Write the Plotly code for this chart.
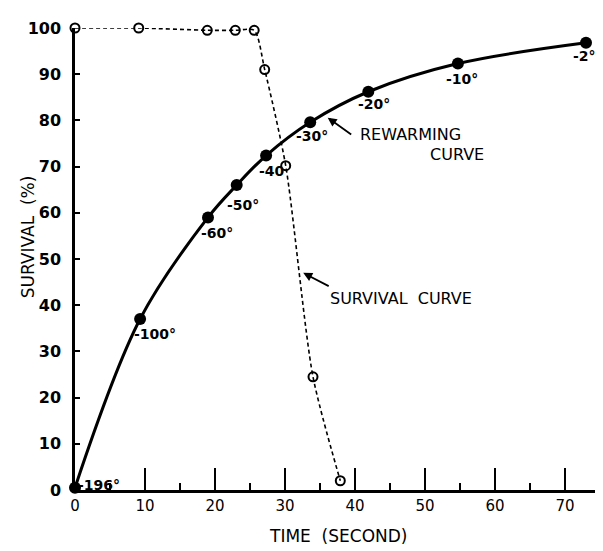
import plotly.graph_objects as go

# Rewarming curve (filled points) : time (s), survival axis value, temperature label
rew_time = [0.0, 9.3, 19.0, 23.1, 27.3, 33.6, 41.9, 54.7, 73.0]
rew_val = [0.5, 37.0, 59.0, 66.0, 72.4, 79.6, 86.2, 92.3, 96.8]
rew_labels = ["-196°", "-100°", "-60°", "-50°", "-40", "-30°", "-20°", "-10°", "-2°"]
# label offsets in pixels (dx, dy) relative to point
lab_dx = [24, 15, 9, 6, 6, 2, 6, 4, -2]
lab_dy = [3, -15, -16, -20, -15, -14, -12, -15, -13]

# Survival curve (open points)
surv_time = [0.0, 9.1, 18.9, 22.9, 25.6, 27.1, 30.1, 34.0, 37.9]
surv_val = [100.0, 100.0, 99.5, 99.5, 99.5, 91.0, 70.2, 24.5, 2.0]

x_ticks = [0, 10, 20, 30, 40, 50, 60, 70]
y_ticks = [0, 10, 20, 30, 40, 50, 60, 70, 80, 90, 100]

FONT = "DejaVu Sans"

fig = go.Figure()

fig.add_trace(go.Scatter(
    x=surv_time, y=surv_val, mode="lines+markers",
    line=dict(color="black", width=1.6, dash="4px,3px", shape="spline", smoothing=0.7),
    marker=dict(symbol="circle-open", size=9, color="black", line=dict(width=2, color="black")),
    cliponaxis=False, showlegend=False))

fig.add_trace(go.Scatter(
    x=rew_time, y=rew_val, mode="lines+markers",
    line=dict(color="black", width=3, shape="spline", smoothing=1.0),
    marker=dict(symbol="circle", size=12, color="black"),
    cliponaxis=False, showlegend=False))

annotations = []
for t, v, lab, dx, dy in zip(rew_time, rew_val, rew_labels, lab_dx, lab_dy):
    annotations.append(dict(x=t, y=v, text=lab, showarrow=False, xshift=dx, yshift=dy,
                            font=dict(family=FONT, size=14, color="black", weight="bold")))

annotations += [
    dict(x=36.1, y=80.6, ax=25, ay=18, text="", showarrow=True, arrowhead=2, arrowsize=1.0,
         arrowwidth=1.8, arrowcolor="black"),
    dict(x=(350 - 67) / 7.0, y=(482 - 122) / 4.68, text="REWARMING", showarrow=False, xanchor="left",
         font=dict(family=FONT, size=16, color="black")),
    dict(x=(420 - 67) / 7.0, y=(482 - 142) / 4.68, text="CURVE", showarrow=False, xanchor="left",
         font=dict(family=FONT, size=16, color="black")),
    dict(x=32.6, y=47.0, ax=27, ay=14, text="", showarrow=True, arrowhead=2, arrowsize=1.0,
         arrowwidth=1.8, arrowcolor="black"),
    dict(x=(320 - 67) / 7.0, y=(482 - 288) / 4.68, text="SURVIVAL  CURVE", showarrow=False, xanchor="left",
         font=dict(family=FONT, size=16, color="black")),
    dict(x=0.501, y=-0.10, xref="paper", yref="paper", text="TIME  (SECOND)", showarrow=False,
         xanchor="center", yanchor="middle",
         font=dict(family=FONT, size=17, color="black")),
    dict(x=-0.0895, y=0.547, xref="paper", yref="paper", text="SURVIVAL  (%)", showarrow=False,
         xanchor="center", yanchor="middle",
         textangle=-90, font=dict(family=FONT, size=17, color="black")),
]

fig.update_layout(
    width=603, height=551,
    margin=dict(l=67, r=11, t=14, b=69),
    paper_bgcolor="white", plot_bgcolor="white",
    annotations=annotations,
)

fig.update_xaxes(
    range=[0, 75], tickvals=x_ticks, ticks="inside", ticklen=22, tickwidth=1.5, tickcolor="black",
    minor=dict(dtick=5, tick0=0, ticks="inside", ticklen=7, tickwidth=1.5, tickcolor="black"),
    showline=True, linewidth=3, linecolor="black", showgrid=False, zeroline=False,
    tickfont=dict(family=FONT, size=15, color="black"), ticklabelstandoff=0,
)
fig.update_yaxes(
    range=[0, 100], tickvals=y_ticks, ticks="inside", ticklen=5, tickwidth=1.5, tickcolor="black",
    showline=True, linewidth=2.5, linecolor="black", showgrid=False, zeroline=False,
    tickfont=dict(family=FONT, size=16, color="black", weight="bold"), ticklabelstandoff=8,
)

fig.write_html("out.html")
